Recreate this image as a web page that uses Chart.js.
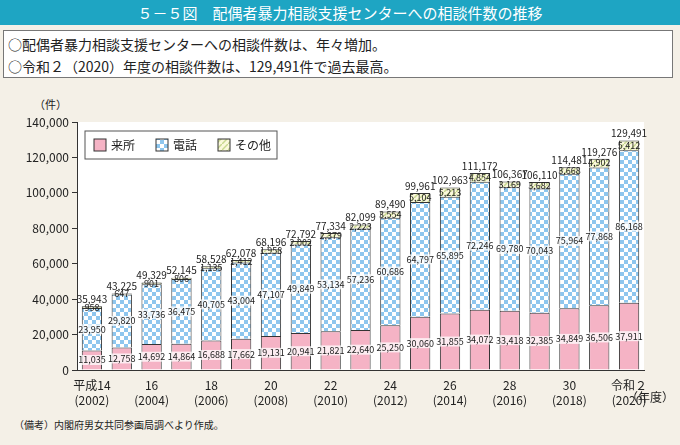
<!DOCTYPE html>
<html><head><meta charset="utf-8">
<script src="https://cdn.jsdelivr.net/npm/chart.js@4"></script>
<style>
body{margin:0;width:680px;height:445px;background:#f4f0e7;font-family:"Noto Sans CJK JP",sans-serif;position:relative;overflow:hidden}
#title{position:absolute;left:0;top:0;width:680px;height:25px;background:#1ea5c3;color:#fff;font-size:15px;line-height:25px;text-align:center}
#box{position:absolute;left:3px;top:30px;width:670px;height:48px;background:#fff;border:1px solid #777;font-size:14px;line-height:22px;padding:2px 0 0 4px;box-sizing:border-box;color:#222}
#unit{position:absolute;left:34px;top:96px;font-size:11px;color:#222}
#cv{position:absolute;left:0;top:108px}
#nendo{position:absolute;left:626px;top:388px;font-size:12px;color:#222}
#note{position:absolute;left:14px;top:417px;font-size:10px;color:#222}
</style></head><body>
<div id="title">５－５図　配偶者暴力相談支援センターへの相談件数の推移</div>
<div id="box">○配偶者暴力相談支援センターへの相談件数は、年々増加。<br>○令和２（2020）年度の相談件数は、129,491件で過去最高。</div>
<div id="unit">（件）</div>
<canvas id="cv" width="680" height="300"></canvas>
<div id="nendo">（年度）</div>
<div id="note">（備考）内閣府男女共同参画局調べより作成。</div>
<script>
const categories = [["平成14","(2002)"],"","16\n(2004)","","18\n(2006)","","20\n(2008)","","22\n(2010)","","24\n(2012)","","26\n(2014)","","28\n(2016)","","30\n(2018)","","令和２\n(2020)"];
const visit = [11035,12758,14692,14864,16688,17662,19131,20941,21821,22640,25250,30060,31855,34072,33418,32385,34849,36506,37911];
const phone = [23950,29820,33736,36475,40705,43004,47107,49849,53134,57236,60686,64797,65895,72246,69780,70043,75964,77868,86168];
const other = [958,647,901,806,1135,1412,1958,2002,2379,2223,3554,5104,5213,4854,3169,3682,3668,4902,5412];
const totals = [35943,43225,49329,52145,58528,62078,68196,72792,77334,82099,89490,99961,102963,111172,106367,106110,114481,119276,129491];
const yTicks = [0,20000,40000,60000,80000,100000,120000,140000];

function checker(){
  const c=document.createElement('canvas');c.width=8;c.height=8;const g=c.getContext('2d');
  g.fillStyle='#fff';g.fillRect(0,0,8,8);g.fillStyle='#8ec6ee';g.fillRect(0,0,4,4);g.fillRect(4,4,4,4);
  return g.createPattern(c,'repeat');
}
function stripes(){
  const c=document.createElement('canvas');c.width=6;c.height=6;const g=c.getContext('2d');
  g.fillStyle='#fbf8dc';g.fillRect(0,0,6,6);g.strokeStyle='#c8d890';g.lineWidth=1.5;
  g.beginPath();g.moveTo(0,6);g.lineTo(6,0);g.stroke();
  return g.createPattern(c,'repeat');
}
const labels = categories.map(c=>Array.isArray(c)?c:(c?c.split("\n"):""));
const fmt = v=>v.toLocaleString('en-US');

const labelPlugin = {id:'lbl',afterDatasetsDraw(chart){
  const ctx=chart.ctx;ctx.save();ctx.font='9px "Noto Sans CJK JP"';ctx.textAlign='center';ctx.textBaseline='middle';
  chart.data.datasets.forEach((ds,i)=>{
    chart.getDatasetMeta(i).data.forEach((b,j)=>{
      const v=ds.data[j];const y=(b.y+b.base)/2;
      const t=fmt(v);const w=ctx.measureText(t).width;
      ctx.fillStyle='#fff';ctx.globalAlpha=i==2?0:0.75;ctx.fillRect(b.x-w/2,y-5,w,10);ctx.globalAlpha=1;
      ctx.fillStyle='#222';ctx.fillText(t,b.x,y);
    });
  });
  const top=chart.getDatasetMeta(2).data;ctx.font='10px "Noto Sans CJK JP"';
  top.forEach((b,j)=>{ctx.fillStyle='#222';ctx.fillText(fmt(totals[j]),b.x,b.y-7);});
  ctx.restore();
}};
const bgPlugin={id:'bg',beforeDraw(chart){const a=chart.chartArea,c=chart.ctx;c.save();c.fillStyle='#fff';c.fillRect(a.left,a.top,a.right-a.left,a.bottom-a.top);c.restore();}};

new Chart(document.getElementById('cv'),{
  type:'bar',
  data:{labels:labels,datasets:[
    {label:'来所',data:visit,backgroundColor:'#f5b3c5',borderColor:'#333',borderWidth:1},
    {label:'電話',data:phone,backgroundColor:checker(),borderColor:'#333',borderWidth:1},
    {label:'その他',data:other,backgroundColor:stripes(),borderColor:'#333',borderWidth:1}
  ]},
  options:{responsive:false,animation:false,
    layout:{padding:{left:0,right:36,top:14,bottom:0}},
    datasets:{bar:{barPercentage:0.68,categoryPercentage:1}},
    scales:{
      x:{stacked:true,grid:{display:false},border:{color:'#333'},
        afterFit(s){s.height=38;},
        ticks:{autoSkip:false,maxRotation:0,color:'#222',font:{size:12,family:'Noto Sans CJK JP',lineHeight:1.25},padding:0}},
      y:{stacked:true,min:0,max:140000,afterFit(s){s.width=77;},
        afterBuildTicks(s){s.ticks=yTicks.map(v=>({value:v}));},
        grid:{drawOnChartArea:false,tickLength:5,color:'#333'},border:{color:'#333'},
        ticks:{color:'#222',font:{size:12,family:'Noto Sans CJK JP'},callback:v=>fmt(v)}}
    },
    plugins:{tooltip:{enabled:false},legend:{display:false}}
  },
  plugins:[bgPlugin,labelPlugin,{id:'leg',afterDraw(chart){
    const c=chart.ctx,a=chart.chartArea;const x=a.left+8,y=a.top+9;c.save();
    c.fillStyle='#fff';c.strokeStyle='#555';c.lineWidth=1;c.fillRect(x,y,192,28);c.strokeRect(x,y,192,28);
    const items=[['来所','#f5b3c5'],['電話',checker()],['その他',stripes()]];
    c.font='12px "Noto Sans CJK JP"';c.textBaseline='middle';
    items.forEach((it,i)=>{const ix=x+9+i*62;c.fillStyle=it[1];c.fillRect(ix,y+8,12,12);c.strokeStyle='#333';c.strokeRect(ix,y+8,12,12);c.fillStyle='#222';c.fillText(it[0],ix+17,y+14);});
    c.restore();}}]
});
</script>
</body></html>
